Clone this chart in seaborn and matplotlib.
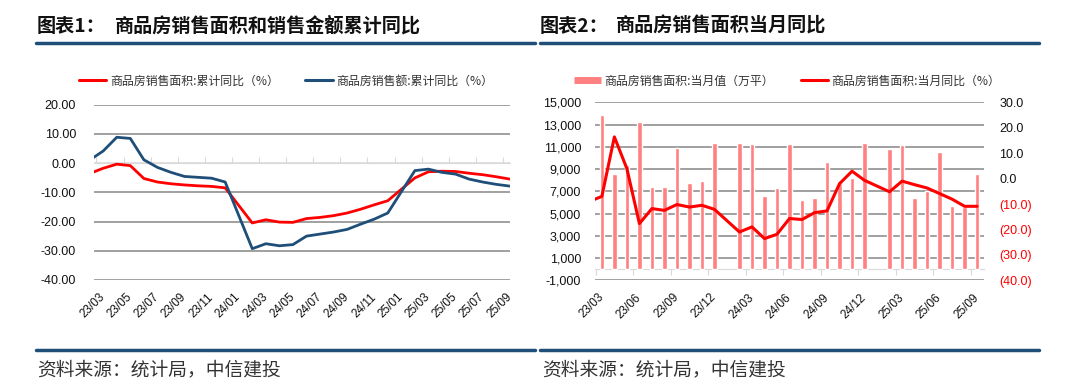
import numpy as np
import pandas as pd
import matplotlib
matplotlib.use('Agg')
import matplotlib.pyplot as plt
import seaborn as sns
from matplotlib.lines import Line2D

# chart 1: cumulative yoy (%)
months_cum = ['23/02', '23/03', '23/04', '23/05', '23/06', '23/07', '23/08', '23/09', '23/10', '23/11', '23/12',
              '24/02', '24/03', '24/04', '24/05', '24/06', '24/07', '24/08', '24/09', '24/10', '24/11', '24/12',
              '25/02', '25/03', '25/04', '25/05', '25/06', '25/07', '25/08', '25/09']
area_cum = [-3.6, -1.8, -0.4, -0.9, -5.3, -6.5, -7.1, -7.5, -7.8, -8.0, -8.5,
            -20.5, -19.4, -20.2, -20.3, -19.0, -18.6, -18.0, -17.1, -15.8, -14.3, -12.9,
            -5.1, -3.0, -2.8, -2.9, -3.5, -4.0, -4.7, -5.5]
amount_cum = [1.0, 4.1, 8.8, 8.4, 1.1, -1.5, -3.2, -4.6, -4.9, -5.2, -6.5,
              -29.3, -27.6, -28.3, -27.9, -25.0, -24.3, -23.6, -22.7, -20.9, -19.2, -17.1,
              -2.6, -2.1, -3.2, -3.8, -5.5, -6.5, -7.3, -7.9]
labels_1 = ['23/03', '23/05', '23/07', '23/09', '23/11', '24/01', '24/03', '24/05',
            '24/07', '24/09', '24/11', '25/01', '25/03', '25/05', '25/07', '25/09']

# chart 2: monthly area (万平) and monthly yoy (%)
months_bar = months_cum[1:]
area_month = [13900, 8520, 9340, 13260, 7400, 7400, 10880, 7790, 7950, 11360,
              11360, 11240, 6560, 7310, 11210, 6220, 6430, 9610, 7780, 8220, 11300,
              10790, 11150, 6400, 7010, 10570, 5710, 5610, 8520]
yoy_month = [-9.0, -7.0, 16.4, 3.9, -17.7, -11.8, -12.5, -10.2, -11.2, -10.5, -12.1,
             -21.0, -19.0, -23.6, -21.9, -15.7, -16.1, -13.4, -12.7, -2.0, 2.9, -0.7,
             -5.2, -1.0, -2.4, -3.7, -5.9, -8.1, -10.9, -10.9]
labels_2 = ['23/03', '23/06', '23/09', '23/12', '24/03', '24/06', '24/09', '24/12', '25/03', '25/06', '25/09']


def month_pos(m):
    # months counted from 23/03
    yy, mm = m.split('/')
    return (int(yy) - 23) * 12 + int(mm) - 3


RED = '#FF0000'
BLUE = '#1F4E79'
PINK = '#FF8080'
GRID = '#868686'
ZERO = '#D9D9D9'
TXT = '#111111'

sns.set_style('white')
plt.rcParams['font.family'] = ['Liberation Sans', 'Noto Sans CJK SC', 'DejaVu Sans']
plt.rcParams['axes.unicode_minus'] = False

W, H = 1080, 392
fig = plt.figure(figsize=(W / 100, H / 100), dpi=100)


def rect(l, t, r, b):
    return [l / W, 1 - b / H, (r - l) / W, (b - t) / H]


def fx(x):
    return x / W


def fy(y):
    return 1 - y / H


cjk = ['Noto Sans CJK SC', 'DejaVu Sans']

# ---------- headers / footers ----------
for x0, x1 in [(36, 535), (540, 1039)]:
    fig.add_artist(Line2D([fx(x0), fx(x1)], [fy(43), fy(43)], lw=2.5, color=BLUE))
    fig.add_artist(Line2D([fx(x0), fx(x1)], [fy(350), fy(350)], lw=2.5, color=BLUE))

fig.text(fx(37), fy(26), '图表1：', family=cjk, fontsize=13.8, weight='bold', va='center', color='#111111')
fig.text(fx(114.5), fy(26), '商品房销售面积和销售金额累计同比', family=cjk, fontsize=13.8, weight='bold',
         va='center', color='#111111')
fig.text(fx(540), fy(26), '图表2：', family=cjk, fontsize=13.8, weight='bold', va='center', color='#111111')
fig.text(fx(616), fy(26), '商品房销售面积当月同比', family=cjk, fontsize=13.8, weight='bold',
         va='center', color='#111111')
for x0 in [37, 542]:
    fig.text(fx(x0), fy(370), '资料来源：统计局，中信建投', family=cjk, fontsize=13.5, style='italic',
             va='center', color='#333333')

# ---------- chart 1 ----------
ax1 = fig.add_axes(rect(94, 104.5, 510, 280))
df1 = pd.DataFrame({'pos': [month_pos(m) for m in months_cum], 'area': area_cum, 'amount': amount_cum})
sns.lineplot(data=df1, x='pos', y='area', color=RED, lw=2.0, ax=ax1)
sns.lineplot(data=df1, x='pos', y='amount', color=BLUE, lw=2.0, ax=ax1)
ax1.set_xlim(-0.68, 30.02)
ax1.set_ylim(-40, 20)
ax1.set_yticks(np.arange(-40, 21, 10))
ax1.set_yticklabels(['%.2f' % v for v in np.arange(-40, 21, 10)])
ax1.set_xticks([month_pos(m) for m in labels_1])
ax1.set_xticklabels(labels_1, rotation=45, ha='right', va='center', rotation_mode='anchor')
ax1.tick_params(axis='x', length=0, pad=11, labelsize=8.5, labelcolor=TXT)
ax1.tick_params(axis='y', length=0, pad=13, labelsize=9, labelcolor=TXT)
ax1.set_xlabel('')
ax1.set_ylabel('')
ax1.yaxis.grid(True, color=GRID, lw=1.1)
for t in ax1.yaxis.get_major_ticks():
    if t.get_loc() == 0:
        t.gridline.set_color(ZERO)
ax1.set_axisbelow(True)
for s in ax1.spines.values():
    s.set_visible(False)
sec1 = ax1.secondary_xaxis(0, transform=ax1.transData)
sec1.set_alignment('bottom')
sec1.set_xticks([month_pos(m) - 0.5 for m in labels_1])
sec1.tick_params(axis='x', direction='in', length=4, color=ZERO, labelbottom=False, labeltop=False)
for s in sec1.spines.values():
    s.set_color(ZERO)

h1 = [Line2D([], [], color=RED, lw=2.2), Line2D([], [], color=BLUE, lw=2.2)]
ax1.legend(h1, ['商品房销售面积:累计同比（%）', '商品房销售额:累计同比（%）'], loc='center',
           bbox_to_anchor=(fx(286), fy(81)), bbox_transform=fig.transFigure, ncol=2, frameon=False,
           prop={'family': cjk, 'size': 8.6}, handlelength=2.3, handletextpad=0.3, columnspacing=2.2,
           labelcolor='#333333')

# ---------- chart 2 ----------
ax2 = fig.add_axes(rect(595, 102.3, 984, 280.3))
df2 = pd.DataFrame({'pos': [month_pos(m) for m in months_bar], 'area': area_month})
sns.barplot(data=df2, x='pos', y='area', native_scale=True, width=0.36, color=PINK, saturation=1,
            errorbar=None, ax=ax2)
ax2.set_xlim(-0.55, 30.55)
ax2.set_ylim(-1000, 15000)
yt2 = np.arange(-1000, 15001, 2000)
ax2.set_yticks(yt2)
ax2.set_yticklabels(['{:,}'.format(v) for v in yt2])
ax2.set_xticks([month_pos(m) for m in labels_2])
ax2.set_xticklabels(labels_2, rotation=45, ha='right', va='center', rotation_mode='anchor')
ax2.tick_params(axis='x', length=0, pad=11, labelsize=8.5, labelcolor=TXT)
ax2.tick_params(axis='y', length=0, pad=10, labelsize=9, labelcolor=TXT)
ax2.set_xlabel('')
ax2.set_ylabel('')
ax2.yaxis.grid(True, color=GRID, lw=1.1)
ax2.set_axisbelow(True)
for s in ax2.spines.values():
    s.set_visible(False)
sec2 = ax2.secondary_xaxis(0, transform=ax2.transData)
sec2.set_alignment('bottom')
sec2.set_xticks([month_pos(m) - 0.5 for m in labels_2])
sec2.tick_params(axis='x', direction='out', length=4, color=ZERO, labelbottom=False, labeltop=False)
for s in sec2.spines.values():
    s.set_color(ZERO)

ax3 = ax2.twinx()
df3 = pd.DataFrame({'pos': [month_pos(m) for m in months_cum], 'yoy': yoy_month})
sns.lineplot(data=df3, x='pos', y='yoy', color=RED, lw=2.2, ax=ax3)
ax3.set_xlim(-0.55, 30.55)
ax3.set_ylim(-40, 30)
yt3 = np.arange(-40, 31, 10)
ax3.set_yticks(yt3)
ax3.set_yticklabels(['(%.1f)' % abs(v) if v < 0 else '%.1f' % v for v in yt3])
for lab, v in zip(ax3.get_yticklabels(), yt3):
    lab.set_color(RED if v < 0 else TXT)
ax3.tick_params(axis='y', length=0, pad=11, labelsize=9)
ax3.set_ylabel('')
ax3.grid(False)
for s in ax3.spines.values():
    s.set_visible(False)

h2 = [Line2D([], [], color=PINK, lw=5, solid_capstyle='butt'), Line2D([], [], color=RED, lw=2.2)]
ax3.legend(h2, ['商品房销售面积:当月值（万平）', '商品房销售面积:当月同比（%）'], loc='center',
           bbox_to_anchor=(fx(787), fy(81)), bbox_transform=fig.transFigure, ncol=2, frameon=False,
           prop={'family': cjk, 'size': 8.6}, handlelength=2.3, handletextpad=0.3, columnspacing=2.2,
           labelcolor='#333333')

fig.savefig('out.png', dpi=100)
